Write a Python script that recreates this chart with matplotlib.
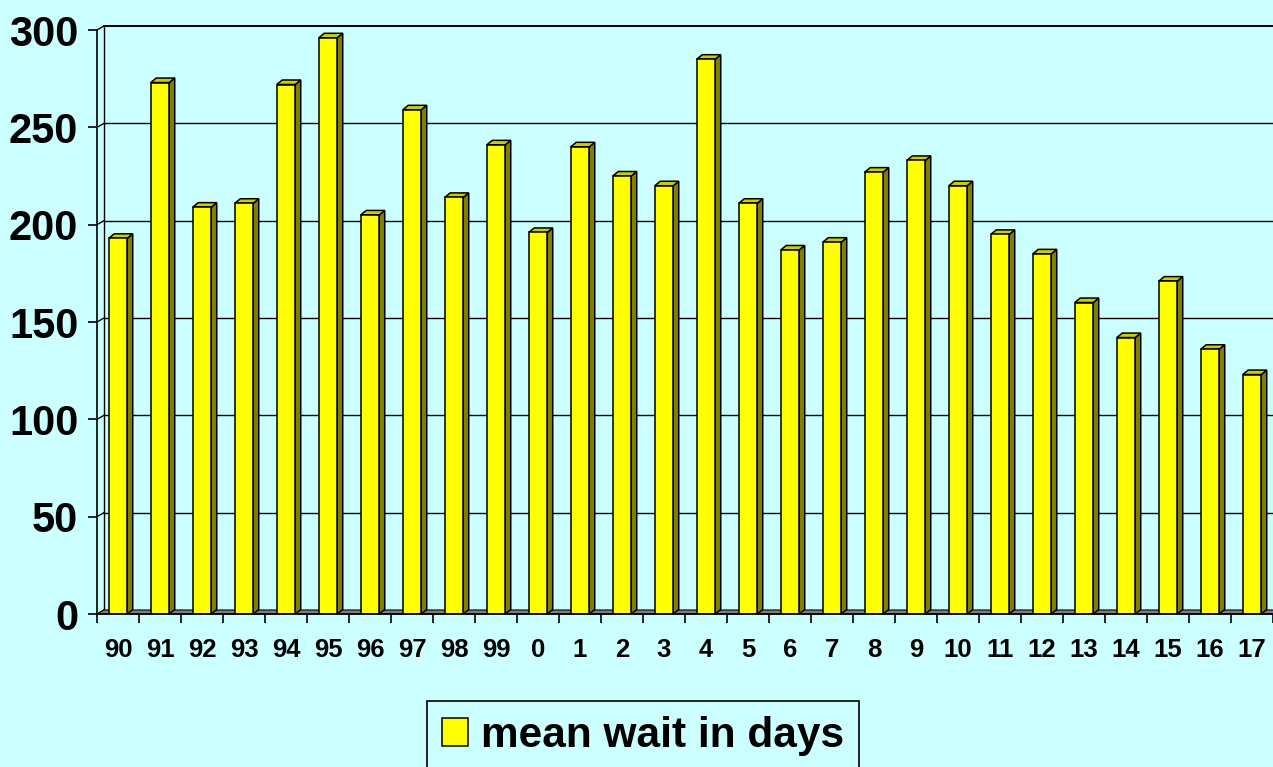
import matplotlib
matplotlib.use('Agg')
from matplotlib import pyplot as plt
from matplotlib.patches import Polygon, Patch
from matplotlib.transforms import offset_copy

years = ['90', '91', '92', '93', '94', '95', '96', '97', '98', '99',
         '0', '1', '2', '3', '4', '5', '6', '7', '8', '9',
         '10', '11', '12', '13', '14', '15', '16', '17']
mean_wait = [193, 273, 209, 211, 272, 296, 205, 259, 214, 241,
             196, 240, 225, 220, 285, 211, 187, 191, 227,
             233, 220, 195, 185, 160, 142, 171, 136, 123]
y_ticks = [0, 50, 100, 150, 200, 250, 300]
series_name = 'mean wait in days'

bg = '#ccffff'
W, H, DPI = 1273, 767, 100
plt.rcParams['font.family'] = ['Liberation Sans', 'DejaVu Sans']

fig = plt.figure(figsize=(W / DPI, H / DPI), dpi=DPI, facecolor=bg)
# front plane of the 3d box, in pixels: x 97..1273, y 30..614
ax = fig.add_axes([97 / W, (H - 614) / H, 1176 / W, 584 / H])
ax.set_facecolor('none')
n = len(years)
ax.set_xlim(-0.5, n - 0.5)
ax.set_ylim(0, 300)

# wall depth offset (pixels) and bar depth offset
wall = offset_copy(ax.transData, fig=fig, x=7, y=4, units='dots')
px_x = 1176 / n
px_y = 584 / 300
bdx, bdy = 5.5 / px_x, 4.5 / px_y

# back wall gridlines + left wall
for t in y_ticks:
    if t > 0:
        ax.plot([-0.5, n - 0.5], [t, t], color='black', lw=1.0 if t < 300 else 1.4,
                transform=wall, clip_on=False, zorder=1)
ax.plot([-0.5, -0.5], [0, 300], color='black', lw=1.0, transform=wall, clip_on=False, zorder=1)
for t in y_ticks:
    # small diagonals joining the front axis to the back wall
    x0, y0 = ax.transData.transform((-0.5, t))
    x1, y1 = wall.transform((-0.5, t))
    ax.plot([x0, x1], [y0, y1], color='black', lw=1.0, transform=None, clip_on=False, zorder=1)

# floor
fx0, fy0 = ax.transData.transform((-0.5, 0))
fx1, fy1 = ax.transData.transform((n - 0.5, 0))
floor = Polygon([(fx0, fy0), (fx1, fy1), (fx1 + 7, fy1 + 4), (fx0 + 7, fy0 + 4)],
                closed=True, facecolor='#808080', edgecolor='black', lw=0.8,
                transform=None, clip_on=False, zorder=2)
ax.add_artist(floor)

# bars with side and top faces
w = 0.44
xs = list(range(n))
for x, v in zip(xs, mean_wait):
    r = x + w / 2
    l = x - w / 2
    side = Polygon([(r, 0), (r + bdx, bdy), (r + bdx, v + bdy), (r, v)],
                   closed=True, facecolor='#808000', edgecolor='black', lw=1.1, zorder=3)
    top = Polygon([(l, v), (r, v), (r + bdx, v + bdy), (l + bdx, v + bdy)],
                  closed=True, facecolor='#cccc00', edgecolor='black', lw=1.1, zorder=3)
    ax.add_patch(side)
    ax.add_patch(top)
ax.bar(xs, mean_wait, width=w, color='#ffff00', edgecolor='black', lw=1.1, zorder=4)

# axes
for s in ['top', 'right']:
    ax.spines[s].set_visible(False)
ax.spines['left'].set_linewidth(1.2)
ax.spines['bottom'].set_linewidth(1.2)
ax.spines['left'].set_zorder(5)
ax.spines['bottom'].set_zorder(5)
ax.set_yticks(y_ticks)
ax.set_yticklabels([str(t) for t in y_ticks], fontsize=30, fontweight='bold')
ax.tick_params(axis='y', length=6.5, width=1.2, pad=7)
ax.set_xticks(xs)
ax.set_xticklabels(years, fontsize=18.5, fontweight='bold')
ax.set_xticks([i - 0.5 for i in range(n + 1)], minor=True)
ax.tick_params(axis='x', which='major', length=0, pad=17)
ax.tick_params(axis='x', which='minor', length=6.5, width=1.2)

leg = fig.legend(handles=[Patch(facecolor='#ffff00', edgecolor='black')],
                 labels=[series_name], loc='upper left',
                 bbox_to_anchor=(427 / W, 1 - 701 / H), bbox_transform=fig.transFigure,
                 frameon=True, fancybox=False, edgecolor='black', facecolor=bg,
                 framealpha=1, prop={'size': 30.5, 'weight': 'bold'},
                 handlelength=0.62, handleheight=0.62, handletextpad=0.3,
                 borderpad=0.35, borderaxespad=0)
leg.get_frame().set_linewidth(1.2)
leg.legend_handles[0].set_linewidth(1.1)

fig.savefig('out.png', dpi=DPI, facecolor=bg)
